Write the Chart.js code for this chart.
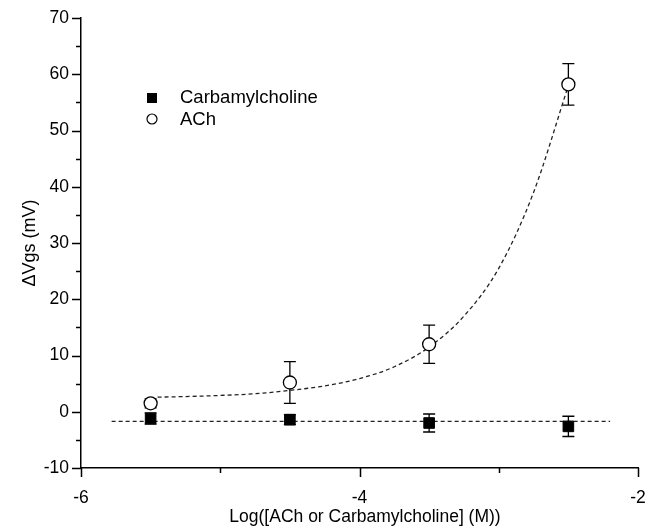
<!DOCTYPE html>
<html>
<head>
<meta charset="utf-8">
<script src="https://cdn.jsdelivr.net/npm/chart.js@4/dist/chart.umd.min.js"></script>
<style>
    html, body { margin: 0; padding: 0; background: #fff; }
    #wrap { width: 658px; height: 530px; }
</style>
</head>
<body>
<div id="wrap"><canvas id="myChart" width="658" height="530"></canvas></div>
<script>
// log concentrations (M)
const logConc = [-5.5, -4.5, -3.5, -2.5];

const carbValues = [-1.2, -1.4, -2.0, -2.6];
const carbErrors = [1.0, 0.9, 1.6, 1.8];

const achValues = [1.5, 5.2, 12.0, 58.2];
const achErrors = [0.8, 3.7, 3.4, 3.7];

// dashed fit lines
const achFitX = [-5.45, -5.25, -5.0, -4.75, -4.5, -4.25, -4.0, -3.75, -3.5, -3.25, -3.0, -2.75, -2.5];
const achFitY = [2.6, 2.7, 2.9, 3.2, 3.8, 4.6, 5.9, 8.0, 11.5, 17.0, 25.5, 39.0, 58.0];
const carbFitX = [-5.78, -2.2];
const carbFitY = [-1.7, -1.7];

const yTicks = [-10, 0, 10, 20, 30, 40, 50, 60, 70];
const xTicks = [-6, -4, -2];
const xTitle = 'Log([ACh or Carbamylcholine] (M))';

const FONT = 'Liberation Sans, Arial, Helvetica, sans-serif';

function toPoints(xs, ys) {
    return xs.map((x, i) => ({x: x, y: ys[i]}));
}

// error bars + custom ticks + legend + x title
const extras = {
    id: 'extras',
    beforeDatasetsDraw(chart) {
        const ctx = chart.ctx;
        const xs = chart.scales.x;
        const ys = chart.scales.y;
        ctx.save();
        ctx.strokeStyle = '#000';
        ctx.lineWidth = 1.3;
        const bars = [[achValues, achErrors], [carbValues, carbErrors]];
        bars.forEach(([vals, errs]) => {
            vals.forEach((v, i) => {
                const px = xs.getPixelForValue(logConc[i]);
                const top = ys.getPixelForValue(v + errs[i]);
                const bot = ys.getPixelForValue(v - errs[i]);
                ctx.beginPath();
                ctx.moveTo(px, top); ctx.lineTo(px, bot);
                ctx.moveTo(px - 6, top); ctx.lineTo(px + 6, top);
                ctx.moveTo(px - 6, bot); ctx.lineTo(px + 6, bot);
                ctx.stroke();
            });
        });
        ctx.restore();
    },
    afterDraw(chart) {
        const ctx = chart.ctx;
        const xs = chart.scales.x;
        const ys = chart.scales.y;
        const area = chart.chartArea;
        ctx.save();
        ctx.strokeStyle = '#000';
        ctx.lineWidth = 1.5;
        ctx.beginPath();
        for (let v = -10; v <= 70; v += 5) {
            const py = Math.round(ys.getPixelForValue(v)) + 0.5;
            const len = v % 10 === 0 ? 9 : 5;
            ctx.moveTo(area.left, py); ctx.lineTo(area.left - len, py);
        }
        for (let v = -6; v <= -2; v += 1) {
            const px = Math.round(xs.getPixelForValue(v)) + 0.5;
            const len = v % 2 === 0 ? 9 : 5;
            ctx.moveTo(px, area.bottom); ctx.lineTo(px, area.bottom + len);
        }
        ctx.stroke();

        // legend
        ctx.fillStyle = '#000';
        ctx.fillRect(147, 93, 10, 10);
        ctx.beginPath();
        ctx.lineWidth = 1.2;
        ctx.arc(152, 119, 5, 0, Math.PI * 2);
        ctx.stroke();
        ctx.font = '18.5px ' + FONT;
        ctx.textBaseline = 'middle';
        ctx.fillText('Carbamylcholine', 180, 98);
        ctx.fillText('ACh', 180, 120);

        // x axis title
        ctx.font = '17.5px ' + FONT;
        ctx.textAlign = 'center';
        ctx.fillText(xTitle, 365, 517);
        ctx.restore();
    }
};

new Chart(document.getElementById('myChart'), {
    type: 'scatter',
    data: {
        datasets: [{
            label: 'Carbamylcholine',
            data: toPoints(logConc, carbValues),
            pointStyle: 'rect',
            pointRadius: 7.5,
            backgroundColor: '#000',
            borderColor: '#000',
            borderWidth: 1,
            order: 1
        }, {
            label: 'ACh',
            data: toPoints(logConc, achValues),
            pointStyle: 'circle',
            pointRadius: 6.5,
            backgroundColor: '#fff',
            borderColor: '#000',
            borderWidth: 1.3,
            order: 0
        }, {
            label: 'ACh fit',
            data: toPoints(achFitX, achFitY),
            showLine: true,
            pointRadius: 0,
            borderColor: '#222',
            borderWidth: 1.3,
            borderDash: [4, 3],
            cubicInterpolationMode: 'monotone',
            order: 2
        }, {
            label: 'Carb fit',
            data: toPoints(carbFitX, carbFitY),
            showLine: true,
            pointRadius: 0,
            borderColor: '#222',
            borderWidth: 1.3,
            borderDash: [4, 3],
            order: 3
        }]
    },
    options: {
        responsive: false,
        animation: false,
        layout: {padding: {top: 18, right: 20, left: 0, bottom: 0}},
        plugins: {
            legend: {display: false},
            tooltip: {enabled: false}
        },
        scales: {
            x: {
                type: 'linear',
                min: -6,
                max: -2,
                afterFit: (scale) => {
                    scale.height = 62;
                    scale.paddingLeft = 0;
                    scale.paddingRight = 0;
                },
                afterBuildTicks: (scale) => { scale.ticks = xTicks.map(v => ({value: v})); },
                grid: {display: false, drawTicks: false},
                border: {display: true, color: '#000', width: 1.5},
                ticks: {color: '#000', padding: 20, font: {size: 17.5, family: FONT}}
            },
            y: {
                type: 'linear',
                min: -10,
                max: 70,
                afterFit: (scale) => {
                    scale.width = 81;
                    scale.paddingTop = 0;
                    scale.paddingBottom = 0;
                },
                afterBuildTicks: (scale) => { scale.ticks = yTicks.map(v => ({value: v})); },
                grid: {display: false, drawTicks: false},
                border: {display: true, color: '#000', width: 1.5},
                ticks: {color: '#000', padding: 12, font: {size: 17.5, family: FONT}},
                title: {
                    display: true,
                    text: 'ΔVgs (mV)',
                    color: '#000',
                    font: {size: 18, family: FONT},
                    padding: {top: 19, bottom: 0}
                }
            }
        }
    },
    plugins: [extras]
});
</script>
</body>
</html>
